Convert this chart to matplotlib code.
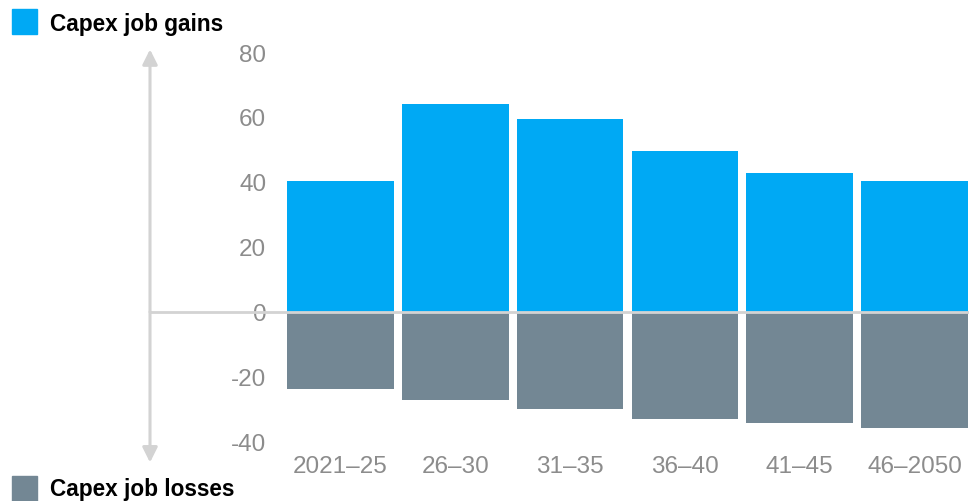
import matplotlib.pyplot as plt
import matplotlib.transforms as mtransforms
from matplotlib.patches import Rectangle

plt.rcParams['font.family'] = ['Liberation Sans', 'DejaVu Sans']

# données
periods = ["2021–25", "26–30", "31–35", "36–40", "41–45", "46–2050"]
gains = [40.3, 64.0, 59.4, 49.5, 42.8, 40.3]
losses = [-23.7, -27.0, -29.8, -32.8, -34.0, -35.8]
yticks = [-40, -20, 0, 20, 40, 60, 80]

blue = "#00a9f4"
grey = "#738794"
axis_grey = "#d3d3d3"
label_grey = "#8c8c8c"

W, H = 970, 502
fig = plt.figure(figsize=(W / 100, H / 100), dpi=100)

# axes en pixels
left, right, top, bottom = 283, 972, 41, 448
ax = fig.add_axes([left / W, 1 - bottom / H, (right - left) / W, (bottom - top) / H])
ymin, ymax = -(bottom - 313) / 3.25, (313 - top) / 3.25
ax.set_ylim(ymin, ymax)
ax.set_xlim(-0.5, 5.5)

x = range(len(periods))
ax.bar(x, gains, width=0.93, color=blue, zorder=2)
ax.bar(x, losses, width=0.93, color=grey, zorder=2)

for s in ax.spines.values():
    s.set_visible(False)

ax.set_yticks(yticks)
ax.set_yticklabels([str(v) for v in yticks])
ax.set_xticks(list(x))
ax.set_xticklabels(periods)
ax.tick_params(axis='y', length=0, pad=12, labelsize=17.5, labelcolor=label_grey)
ax.tick_params(axis='x', length=0, pad=6, labelsize=17.5, labelcolor=label_grey)

# ligne zéro et flèche verticale (x en pixels de la figure)
trans = mtransforms.blended_transform_factory(fig.transFigure, ax.transData)
ax.plot([150 / W, 968 / W], [0, 0], color=axis_grey, lw=2, transform=trans,
        clip_on=False, zorder=3)
ax.annotate("", xy=(150 / W, 80.8), xytext=(150 / W, 0), xycoords=trans, textcoords=trans,
            arrowprops=dict(arrowstyle="-|>,head_length=0.9,head_width=0.45",
                            color=axis_grey, lw=2.2, shrinkA=0, shrinkB=0),
            annotation_clip=False)
ax.annotate("", xy=(150 / W, -46.3), xytext=(150 / W, 0), xycoords=trans, textcoords=trans,
            arrowprops=dict(arrowstyle="-|>,head_length=0.9,head_width=0.45",
                            color=axis_grey, lw=2.2, shrinkA=0, shrinkB=0),
            annotation_clip=False)

# légendes
fig.add_artist(Rectangle((12 / W, 1 - 35 / H), 25 / W, 25 / H, transform=fig.transFigure,
                         color=blue))
fig.text(50 / W, 1 - 25 / H, "Capex job gains", fontsize=16.3, fontweight='bold',
         va='center', ha='left', color='black')
fig.add_artist(Rectangle((12 / W, 1 - 502 / H), 25 / W, 25 / H, transform=fig.transFigure,
                         color=grey))
fig.text(50 / W, 1 - 490 / H, "Capex job losses", fontsize=16.3, fontweight='bold',
         va='center', ha='left', color='black')

fig.savefig("out.png", dpi=100)
